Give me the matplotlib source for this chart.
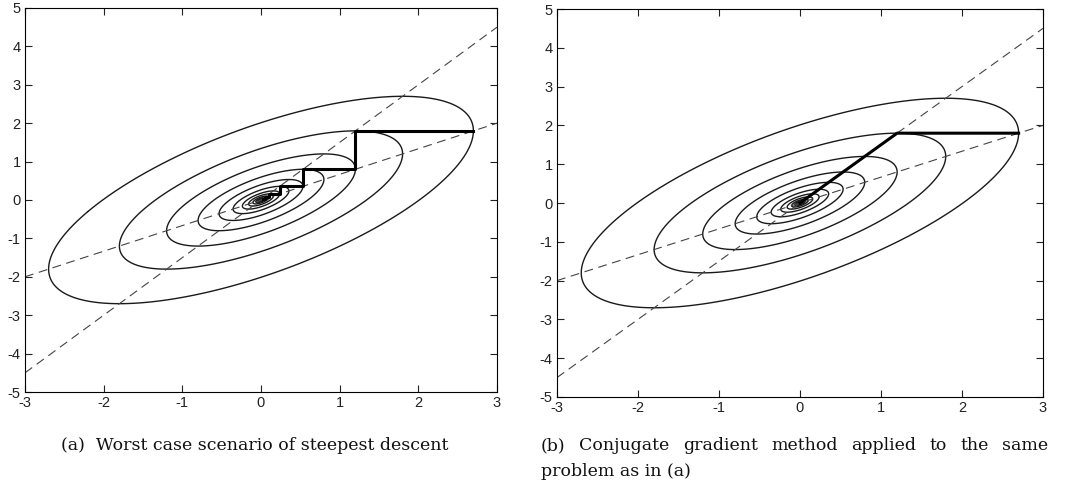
import numpy as np
import matplotlib
matplotlib.use("Agg")
import matplotlib.pyplot as plt

plt.rcParams["axes.unicode_minus"] = False

A_XX, A_XY, A_YY = 1.5, -1.0, 1.5

# contour levels (each step of the path lands on the next one)
levels = [0.0008, 0.0018, 0.004, 0.009, 0.021, 0.047, 0.105, 0.237, 0.533, 1.2, 2.7, 6.075]

# dashed lines: y = slope * x
dash_slopes = [2 / 3, 1.5]

# steepest descent path (panel a)
sd_x = [2.7, 1.2, 1.2, 0.533, 0.533, 0.237, 0.237, 0.105, 0.105, 0.047, 0.047, 0.021]
sd_y = [1.8, 1.8, 0.8, 0.8, 0.356, 0.356, 0.158, 0.158, 0.07, 0.07, 0.031, 0.031]

# conjugate gradient path (panel b)
cg_x = [2.7, 1.2, 0.0]
cg_y = [1.8, 1.8, 0.0]

xticks = [-3, -2, -1, 0, 1, 2, 3]
yticks = [-5, -4, -3, -2, -1, 0, 1, 2, 3, 4, 5]

caption_a = "(a)  Worst case scenario of steepest descent"
caption_b1 = "(b) Conjugate gradient method applied to the same"
caption_b2 = "problem as in (a)"

fig = plt.figure(figsize=(10.69, 4.9), dpi=100)
ax_a = fig.add_axes([0.0234, 0.2, 0.4415, 0.7837])
ax_b = fig.add_axes([0.521, 0.1898, 0.4546, 0.7918])

gx, gy = np.meshgrid(np.linspace(-3, 3, 241), np.linspace(-5, 5, 401))
gf = A_XX * gx**2 + 2 * A_XY * gx * gy + A_YY * gy**2

for ax, px, py in [(ax_a, sd_x, sd_y), (ax_b, cg_x, cg_y)]:
    ax.contour(gx, gy, gf, levels=levels, colors="#1a1a1a", linewidths=1.0)
    xs = np.array([-3, 3])
    for s in dash_slopes:
        ax.plot(xs, s * xs, color="#444444", linewidth=0.8, dashes=(8, 5))
    ax.plot(px, py, color="black", linewidth=2.2)
    ax.set_xlim(-3, 3)
    ax.set_ylim(-5, 5)
    ax.set_xticks(xticks)
    ax.set_yticks(yticks)
    ax.tick_params(direction="in", length=5, width=0.8, top=True, right=True,
                   labelsize=10.5, colors="#222222", pad=3)
    for lab in ax.get_xticklabels() + ax.get_yticklabels():
        lab.set_family("Liberation Sans")
    for sp in ax.spines.values():
        sp.set_linewidth(0.8)

# captions
cap_font = dict(family="DejaVu Serif", size=12.5, color="#111111")
fig.text(0.2385, 0.09, caption_a, ha="center", va="center", **cap_font)

# justified first line of caption (b)
left_px, right_px = 541, 1048
words = caption_b1.split()
fig.canvas.draw()
renderer = fig.canvas.get_renderer()
tmp = [fig.text(0, 0, w, **cap_font) for w in words]
widths = [t.get_window_extent(renderer).width for t in tmp]
for t in tmp:
    t.remove()
gap = (right_px - left_px - sum(widths)) / (len(words) - 1)
xpos = left_px
for w, wd in zip(words, widths):
    fig.text(xpos / 1069, 0.09, w, ha="left", va="center", **cap_font)
    xpos += wd + gap
fig.text(left_px / 1069, 0.037, caption_b2, ha="left", va="center", **cap_font)

fig.savefig("out.png", dpi=100, facecolor="white")
